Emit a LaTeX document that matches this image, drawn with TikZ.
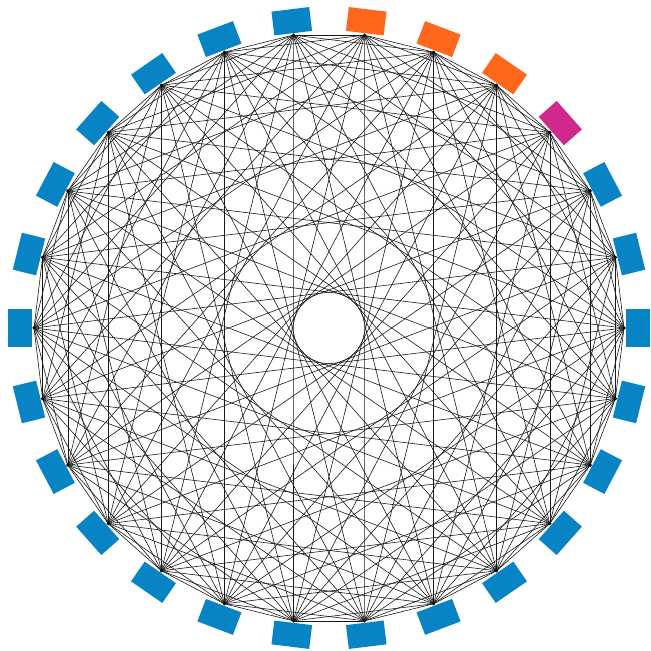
\documentclass[tikz,border=0pt]{standalone}
\definecolor{vblue}{RGB}{8,132,196}
\definecolor{vorange}{RGB}{255,104,28}
\definecolor{vmagenta}{RGB}{208,40,140}
\tikzset{
  edge/.style={draw=black!90,line width=0.6pt},
  vdot/.style={circle,fill=black,inner sep=0pt,minimum size=3.5pt},
  tab/.style={rectangle,inner sep=0pt,minimum width=24pt,minimum height=38pt}
}
\begin{document}
\begin{tikzpicture}[x=1pt,y=1pt]
\useasboundingbox (0,0) rectangle (651,651);
\foreach \i in {0,...,25}{
  \coordinate (c\i) at ({329+295*cos(\i*360/26)},{323+295*sin(\i*360/26)});
}
\foreach \i in {0,...,25}{
  \foreach \k in {1,2,4,6,8,10,12}{
    \pgfmathtruncatemacro\j{mod(\i+\k,26)}
    \draw[edge] (c\i) -- (c\j);
  }
}
\foreach \i/\col in {0/vblue,1/vblue,2/vblue,3/vmagenta,4/vorange,5/vorange,6/vorange,7/vblue,8/vblue,9/vblue,10/vblue,11/vblue,12/vblue,13/vblue,14/vblue,15/vblue,16/vblue,17/vblue,18/vblue,19/vblue,20/vblue,21/vblue,22/vblue,23/vblue,24/vblue,25/vblue}{
  \node[vdot] (v\i) at (c\i) {};
  \node[tab,fill=\col,rotate={\i*360/26}] (t\i) at ({329+309*cos(\i*360/26)},{323+309*sin(\i*360/26)}) {};
}
\end{tikzpicture}
\end{document}
